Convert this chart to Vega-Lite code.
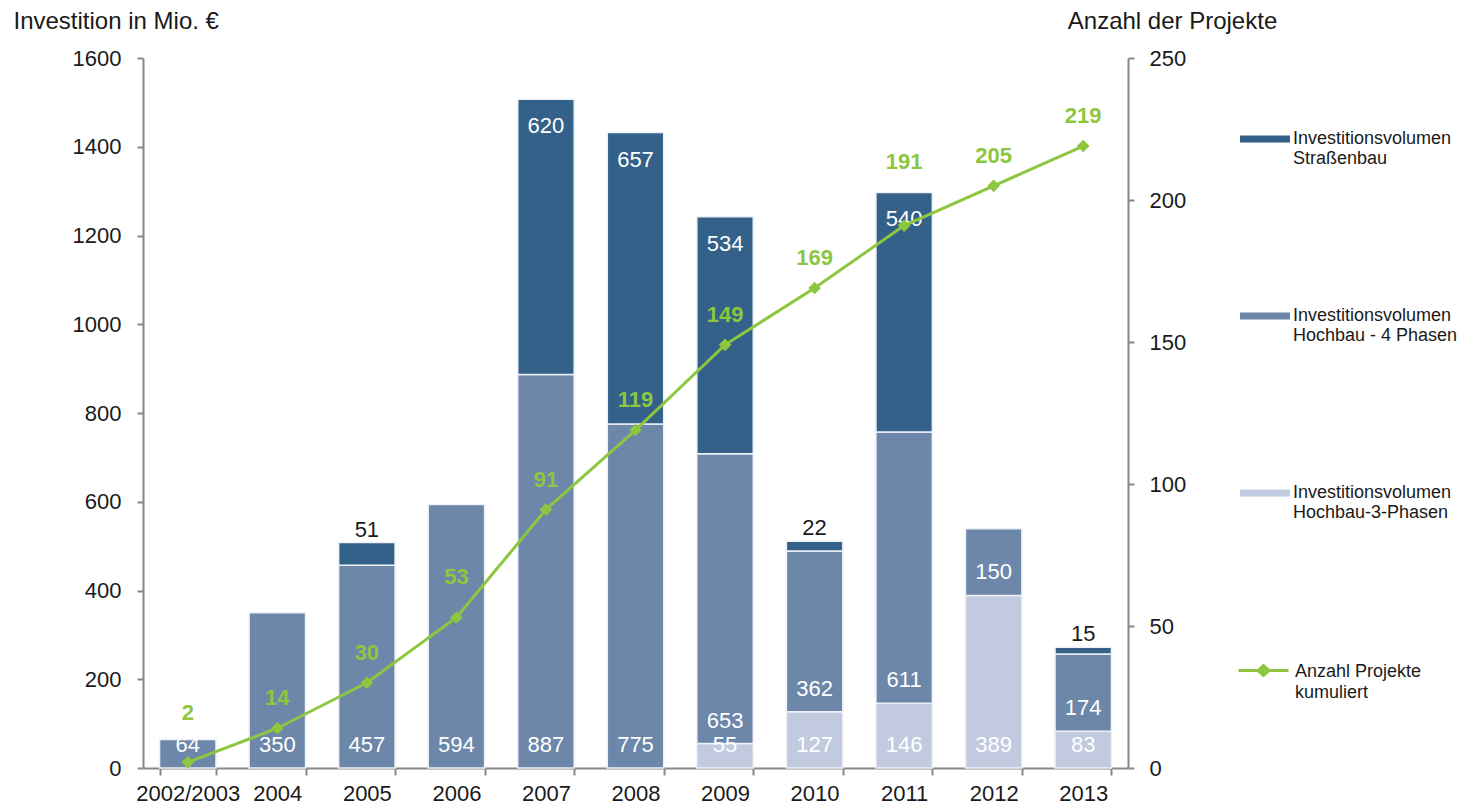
{
  "$schema": "https://vega.github.io/schema/vega-lite/v6.json",
  "width": 985,
  "height": 710,
  "autosize": {"type": "none"},
  "padding": {"left": 143, "top": 58, "right": 334, "bottom": 37},
  "background": "white",
  "config": {
    "view": {"stroke": null},
    "font": "Liberation Sans",
    "axis": {
      "domainColor": "#888888",
      "tickColor": "#888888",
      "domainWidth": 2,
      "tickWidth": 2,
      "labelFont": "Liberation Sans",
      "labelFontSize": 22,
      "labelColor": "#1a1a1a",
      "titleFont": "Liberation Sans",
      "titleFontSize": 24,
      "titleFontWeight": "normal",
      "titleColor": "#1a1a1a",
      "grid": false
    },
    "legend": {
      "labelFont": "Liberation Sans",
      "labelFontSize": 18,
      "labelColor": "#1a1a1a",
      "padding": 0
    }
  },
  "datasets": {
    "bars": [
      {"year": "2002/2003", "cat": "Hochbau - 4 Phasen", "value": 64},
      {"year": "2004", "cat": "Hochbau - 4 Phasen", "value": 350},
      {"year": "2005", "cat": "Hochbau - 4 Phasen", "value": 457},
      {"year": "2005", "cat": "Straßenbau", "value": 51},
      {"year": "2006", "cat": "Hochbau - 4 Phasen", "value": 594},
      {"year": "2007", "cat": "Hochbau - 4 Phasen", "value": 887},
      {"year": "2007", "cat": "Straßenbau", "value": 620},
      {"year": "2008", "cat": "Hochbau - 4 Phasen", "value": 775},
      {"year": "2008", "cat": "Straßenbau", "value": 657},
      {"year": "2009", "cat": "Hochbau-3-Phasen", "value": 55},
      {"year": "2009", "cat": "Hochbau - 4 Phasen", "value": 653},
      {"year": "2009", "cat": "Straßenbau", "value": 534},
      {"year": "2010", "cat": "Hochbau-3-Phasen", "value": 127},
      {"year": "2010", "cat": "Hochbau - 4 Phasen", "value": 362},
      {"year": "2010", "cat": "Straßenbau", "value": 22},
      {"year": "2011", "cat": "Hochbau-3-Phasen", "value": 146},
      {"year": "2011", "cat": "Hochbau - 4 Phasen", "value": 611},
      {"year": "2011", "cat": "Straßenbau", "value": 540},
      {"year": "2012", "cat": "Hochbau-3-Phasen", "value": 389},
      {"year": "2012", "cat": "Hochbau - 4 Phasen", "value": 150},
      {"year": "2013", "cat": "Hochbau-3-Phasen", "value": 83},
      {"year": "2013", "cat": "Hochbau - 4 Phasen", "value": 174},
      {"year": "2013", "cat": "Straßenbau", "value": 15}
    ],
    "projects": [
      {"year": "2002/2003", "n": 2},
      {"year": "2004", "n": 14},
      {"year": "2005", "n": 30},
      {"year": "2006", "n": 53},
      {"year": "2007", "n": 91},
      {"year": "2008", "n": 119},
      {"year": "2009", "n": 149},
      {"year": "2010", "n": 169},
      {"year": "2011", "n": 191},
      {"year": "2012", "n": 205},
      {"year": "2013", "n": 219}
    ]
  },
  "encoding": {
    "x": {
      "field": "year",
      "type": "nominal",
      "sort": ["2002/2003", "2004", "2005", "2006", "2007", "2008", "2009", "2010", "2011", "2012", "2013"],
      "scale": {"paddingInner": 0.37, "paddingOuter": 0.185},
      "axis": {"title": null, "labelAngle": 0, "tickBand": "extent", "tickSize": 7, "labelPadding": 8, "domainWidth": 2, "labelFontSize": 22}
    }
  },
  "layer": [
    {
      "data": {"name": "bars"},
      "transform": [
        {"calculate": "indexof(['Hochbau-3-Phasen', 'Hochbau - 4 Phasen', 'Straßenbau'], datum.cat)", "as": "ord"},
        {"stack": "value", "groupby": ["year"], "sort": [{"field": "ord", "order": "ascending"}], "as": ["v0", "v1"]}
      ],
      "layer": [
        {
          "mark": {"type": "bar", "stroke": "#eef1f6", "strokeWidth": 1.5},
          "encoding": {
            "y": {
              "field": "v1", "type": "quantitative",
              "scale": {"domain": [0, 1600], "nice": false},
              "axis": {
                "values": [0, 200, 400, 600, 800, 1000, 1200, 1400, 1600],
                "format": "d",
                "labelFontSize": 22,
                "title": "Investition in Mio. €",
                "titleAngle": 0, "titleX": -130, "titleY": -37, "titleAlign": "left", "titleBaseline": "middle",
                "tickSize": 6, "labelPadding": 16
              }
            },
            "y2": {"field": "v0"},
            "fill": {
              "field": "cat", "type": "nominal",
              "scale": {"domain": ["Straßenbau", "Hochbau - 4 Phasen", "Hochbau-3-Phasen"], "range": ["#336189", "#6d87aa", "#c1cade"]},
              "legend": {
                "title": null,
                "orient": "none",
                "legendX": 1097,
                "legendY": 56,
                "symbolType": "M-1,-0.14H1V0.14H-1Z",
                "symbolSize": 2500,
                "symbolStrokeWidth": 0,
                "labelOffset": 3,
                "rowPadding": 123,
                "labelBaseline": "middle",
                "labelExpr": "['Investitionsvolumen', datum.label]",
                "labelLimit": 300,
                "encode": {"labels": {"update": {"dy": {"value": 12}, "lineHeight": {"value": 21}}}}
              }
            }
          }
        },
        {
          "transform": [{"filter": "datum.cat != 'Straßenbau'"}],
          "mark": {"type": "text", "color": "white", "fontSize": 22, "dy": -23, "baseline": "middle"},
          "encoding": {
            "y": {"field": "v0", "type": "quantitative"},
            "text": {"field": "value", "type": "quantitative"}
          }
        },
        {
          "transform": [{"filter": "datum.cat == 'Straßenbau' && datum.value >= 100"}],
          "mark": {"type": "text", "color": "white", "fontSize": 22, "dy": 27, "baseline": "middle"},
          "encoding": {
            "y": {"field": "v1", "type": "quantitative"},
            "text": {"field": "value", "type": "quantitative"}
          }
        },
        {
          "transform": [{"filter": "datum.cat == 'Straßenbau' && datum.value < 100"}],
          "mark": {"type": "text", "color": "#1a1a1a", "fontSize": 22, "dy": -13, "baseline": "middle"},
          "encoding": {
            "y": {"field": "v1", "type": "quantitative"},
            "text": {"field": "value", "type": "quantitative"}
          }
        }
      ]
    },
    {
      "data": {"name": "projects"},
      "layer": [
        {
          "mark": {"type": "line", "strokeWidth": 3},
          "encoding": {
            "y": {
              "field": "n", "type": "quantitative",
              "scale": {"domain": [0, 250], "nice": false},
              "axis": {
                "orient": "right",
                "values": [0, 50, 100, 150, 200, 250],
                "labelFontSize": 22,
                "title": "Anzahl der Projekte",
                "titleAngle": 0, "titleX": 44, "titleY": -37, "titleAlign": "center", "titleBaseline": "middle",
                "tickSize": 6, "labelPadding": 15
              }
            },
            "stroke": {
              "datum": "Anzahl Projekte kumuliert",
              "type": "nominal",
              "scale": {"range": ["#8dc63f"]},
              "legend": {
                "title": null,
                "orient": "none",
                "legendX": 1094,
                "legendY": 586,
                "symbolType": "M-1,0H1M-0.22,0L0,-0.2L0.22,0L0,0.2Z",
                "symbolSize": 2500,
                "symbolStrokeWidth": 3,
                "symbolFillColor": "#8dc63f",
                "labelOffset": 5,
                "labelBaseline": "top",
                "labelExpr": "['Anzahl Projekte', 'kumuliert']",
                "labelLimit": 300,
                "encode": {"labels": {"update": {"dy": {"value": -8}, "lineHeight": {"value": 21}}}}
              }
            }
          }
        },
        {
          "mark": {"type": "point", "shape": "diamond", "filled": true, "size": 160, "color": "#8dc63f", "opacity": 1},
          "encoding": {"y": {"field": "n", "type": "quantitative"}}
        },
        {
          "transform": [{"filter": "datum.n != 2 && datum.n != 53 && datum.n != 191"}],
          "mark": {"type": "text", "color": "#8dc63f", "fontSize": 22, "fontWeight": "bold", "dy": -30, "baseline": "middle"},
          "encoding": {
            "y": {"field": "n", "type": "quantitative"},
            "text": {"field": "n", "type": "quantitative"}
          }
        },
        {
          "transform": [{"filter": "datum.n == 2"}],
          "mark": {"type": "text", "color": "#8dc63f", "fontSize": 22, "fontWeight": "bold", "dy": -49, "baseline": "middle"},
          "encoding": {
            "y": {"field": "n", "type": "quantitative"},
            "text": {"field": "n", "type": "quantitative"}
          }
        },
        {
          "transform": [{"filter": "datum.n == 53"}],
          "mark": {"type": "text", "color": "#8dc63f", "fontSize": 22, "fontWeight": "bold", "dy": -40, "baseline": "middle"},
          "encoding": {
            "y": {"field": "n", "type": "quantitative"},
            "text": {"field": "n", "type": "quantitative"}
          }
        },
        {
          "transform": [{"filter": "datum.n == 191"}],
          "mark": {"type": "text", "color": "#8dc63f", "fontSize": 22, "fontWeight": "bold", "dy": -64, "baseline": "middle"},
          "encoding": {
            "y": {"field": "n", "type": "quantitative"},
            "text": {"field": "n", "type": "quantitative"}
          }
        }
      ]
    }
  ],
  "resolve": {"scale": {"y": "independent"}}
}
